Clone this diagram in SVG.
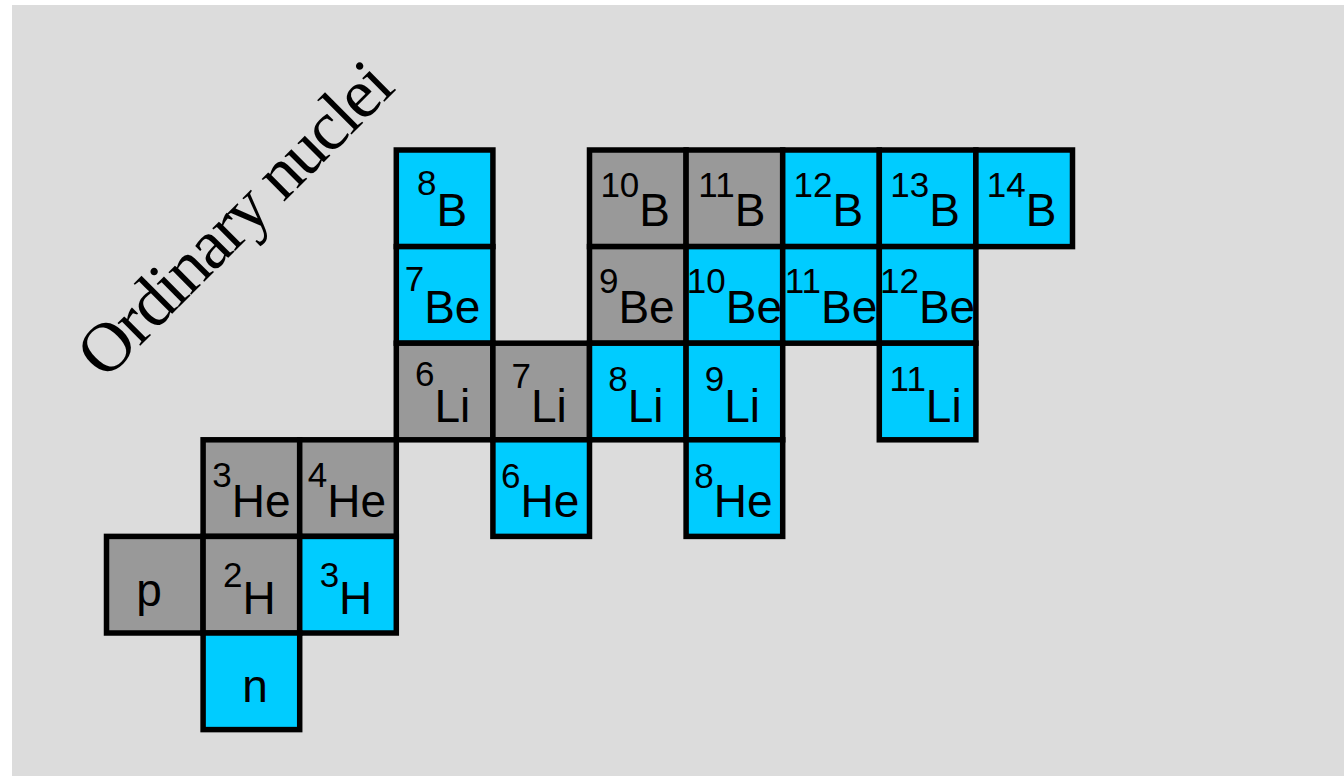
<svg xmlns="http://www.w3.org/2000/svg" width="1344" height="776" viewBox="0 0 1344 776">
  <style>
    .cell { stroke: #000; stroke-width: 5.5; }
    .stable { fill: #999999; }
    .exotic { fill: #00ccff; }
    .lbl { font-family: "Liberation Sans", Arial, sans-serif; font-size: 46px; fill: #000; text-anchor: middle; }
    .sup { font-size: 35px; }
    .title { font-family: "Liberation Serif", "Times New Roman", serif; font-size: 70px; fill: #000; }
  </style>
  <rect x="12" y="5" width="1332" height="771" fill="#dcdcdc"/>

  <text class="title" transform="translate(105,381) rotate(-45)" textLength="413" lengthAdjust="spacing">Ordinary nuclei</text>

  <!-- Boron row -->
  <g id="B8"><rect class="cell exotic" x="396.3" y="150" width="96.6" height="96.6"/><text class="lbl" x="442" y="195"><tspan class="sup">8</tspan><tspan dy="31">B</tspan></text></g>
  <g id="B10"><rect class="cell stable" x="589.5" y="150" width="96.6" height="96.6"/><text class="lbl" x="635.2" y="197"><tspan class="sup">10</tspan><tspan dy="29">B</tspan></text></g>
  <g id="B11"><rect class="cell stable" x="686.1" y="150" width="96.6" height="96.6"/><text class="lbl" x="731.8" y="197"><tspan class="sup">11</tspan><tspan dy="29">B</tspan></text></g>
  <g id="B12"><rect class="cell exotic" x="782.7" y="150" width="96.6" height="96.6"/><text class="lbl" x="828.4" y="197"><tspan class="sup">12</tspan><tspan dy="29">B</tspan></text></g>
  <g id="B13"><rect class="cell exotic" x="879.3" y="150" width="96.6" height="96.6"/><text class="lbl" x="925" y="197"><tspan class="sup">13</tspan><tspan dy="29">B</tspan></text></g>
  <g id="B14"><rect class="cell exotic" x="975.9" y="150" width="96.6" height="96.6"/><text class="lbl" x="1021.6" y="197"><tspan class="sup">14</tspan><tspan dy="29">B</tspan></text></g>

  <!-- Beryllium row -->
  <g id="Be7"><rect class="cell exotic" x="396.3" y="246.6" width="96.6" height="96.6"/><text class="lbl" x="442.6" y="291"><tspan class="sup">7</tspan><tspan dy="32">Be</tspan></text></g>
  <g id="Be9"><rect class="cell stable" x="589.5" y="246.6" width="96.6" height="96.6"/><text class="lbl" x="636.8" y="293"><tspan class="sup">9</tspan><tspan dy="30">Be</tspan></text></g>
  <g id="Be10"><rect class="cell exotic" x="686.1" y="246.6" width="96.6" height="96.6"/><text class="lbl" x="734.4" y="293"><tspan class="sup">10</tspan><tspan dy="30">Be</tspan></text></g>
  <g id="Be11"><rect class="cell exotic" x="782.7" y="246.6" width="96.6" height="96.6"/><text class="lbl" x="831" y="293"><tspan class="sup">11</tspan><tspan dy="30">Be</tspan></text></g>
  <g id="Be12"><rect class="cell exotic" x="879.3" y="246.6" width="96.6" height="96.6"/><text class="lbl" x="927.6" y="293"><tspan class="sup">12</tspan><tspan dy="30">Be</tspan></text></g>

  <!-- Lithium row -->
  <g id="Li6"><rect class="cell stable" x="396.3" y="343.2" width="96.6" height="96.6"/><text class="lbl" x="442.6" y="386"><tspan class="sup">6</tspan><tspan dy="36">Li</tspan></text></g>
  <g id="Li7"><rect class="cell stable" x="492.9" y="343.2" width="96.6" height="96.6"/><text class="lbl" x="539.2" y="388"><tspan class="sup">7</tspan><tspan dy="34">Li</tspan></text></g>
  <g id="Li8"><rect class="cell exotic" x="589.5" y="343.2" width="96.6" height="96.6"/><text class="lbl" x="635.8" y="391"><tspan class="sup">8</tspan><tspan dy="31">Li</tspan></text></g>
  <g id="Li9"><rect class="cell exotic" x="686.1" y="343.2" width="96.6" height="96.6"/><text class="lbl" x="732.4" y="391"><tspan class="sup">9</tspan><tspan dy="31">Li</tspan></text></g>
  <g id="Li11"><rect class="cell exotic" x="879.3" y="343.2" width="96.6" height="96.6"/><text class="lbl" x="925.6" y="391"><tspan class="sup">11</tspan><tspan dy="31">Li</tspan></text></g>

  <!-- Helium row -->
  <g id="He3"><rect class="cell stable" x="203.1" y="439.8" width="96.6" height="96.6"/><text class="lbl" x="251.4" y="487"><tspan class="sup">3</tspan><tspan dy="30">He</tspan></text></g>
  <g id="He4"><rect class="cell stable" x="299.7" y="439.8" width="96.6" height="96.6"/><text class="lbl" x="347" y="487"><tspan class="sup">4</tspan><tspan dy="30">He</tspan></text></g>
  <g id="He6"><rect class="cell exotic" x="492.9" y="439.8" width="96.6" height="96.6"/><text class="lbl" x="540.2" y="488"><tspan class="sup">6</tspan><tspan dy="29">He</tspan></text></g>
  <g id="He8"><rect class="cell exotic" x="686.1" y="439.8" width="96.6" height="96.6"/><text class="lbl" x="733.4" y="488"><tspan class="sup">8</tspan><tspan dy="29">He</tspan></text></g>

  <!-- Hydrogen row -->
  <g id="p"><rect class="cell stable" x="106.5" y="536.4" width="96.6" height="96.6"/><text class="lbl" x="149" y="606">p</text></g>
  <g id="H2"><rect class="cell stable" x="203.1" y="536.4" width="96.6" height="96.6"/><text class="lbl" x="249.4" y="587"><tspan class="sup">2</tspan><tspan dy="27">H</tspan></text></g>
  <g id="H3"><rect class="cell exotic" x="299.7" y="536.4" width="96.6" height="96.6"/><text class="lbl" x="346" y="587"><tspan class="sup">3</tspan><tspan dy="27">H</tspan></text></g>

  <!-- Neutron -->
  <g id="n"><rect class="cell exotic" x="203.1" y="633" width="96.6" height="96.6"/><text class="lbl" x="255" y="702">n</text></g>
</svg>
